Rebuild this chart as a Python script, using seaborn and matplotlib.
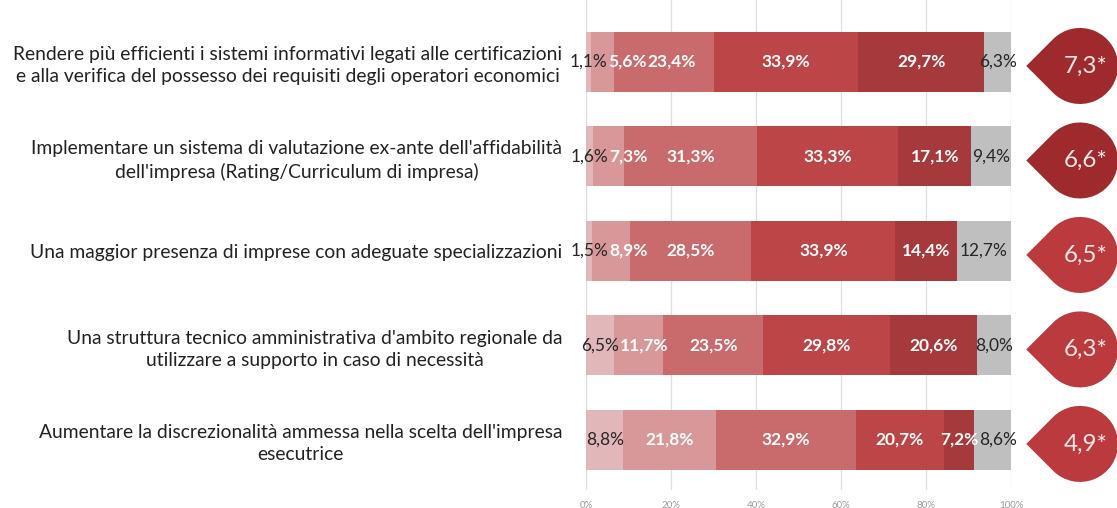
import numpy as np
import pandas as pd
import seaborn as sns
import matplotlib.pyplot as plt
from matplotlib.path import Path
from matplotlib.patches import PathPatch

# ---- data -------------------------------------------------------------
categories = [
    "Rendere più efficienti i sistemi informativi legati alle certificazioni\n"
    "e alla verifica del possesso dei requisiti degli operatori economici",
    "Implementare un sistema di valutazione ex-ante dell'affidabilità\n"
    "dell'impresa (Rating/Curriculum di impresa)",
    "Una maggior presenza di imprese con adeguate specializzazioni",
    "Una struttura tecnico amministrativa d'ambito regionale da\n"
    "utilizzare a supporto in caso di necessità",
    "Aumentare la discrezionalità ammessa nella scelta dell'impresa\n"
    "esecutrice",
]
share_1 = [1.1, 1.6, 1.5, 6.5, 8.8]
share_2 = [5.6, 7.3, 8.9, 11.7, 21.8]
share_3 = [23.4, 31.3, 28.5, 23.5, 32.9]
share_4 = [33.9, 33.3, 33.9, 29.8, 20.7]
share_5 = [29.7, 17.1, 14.4, 20.6, 7.2]
share_na = [6.3, 9.4, 12.7, 8.0, 8.6]
scores = [7.3, 6.6, 6.5, 6.3, 4.9]
tick_values = [0, 20, 40, 60, 80, 100]
tick_labels = ["0%", "20%", "40%", "60%", "80%", "100%"]

# ---- style ------------------------------------------------------------
sns.set_theme(style="white")
plt.rcParams["font.family"] = ["Lato", "DejaVu Sans"]

seg_colors = ["#e2b7b9", "#d8989a", "#c96a6d", "#bb4547", "#a6393b", "#bfbfbf"]
label_colors = ["#262626", "#ffffff", "#ffffff", "#ffffff", "#ffffff", "#262626"]
label_weights = ["normal", "bold", "bold", "bold", "bold", "normal"]
drop_dark, drop_light = "#9e2a2d", "#bb3a3e"

W, H = 1117, 508
fig = plt.figure(figsize=(W / 100, H / 100), dpi=100)
ax_bottom_px, ax_top_px = 490, 0
ax = fig.add_axes([586 / W, (H - ax_bottom_px) / H, 425 / W, (ax_bottom_px - ax_top_px) / H])

series = [share_1, share_2, share_3, share_4, share_5, share_na]
shares = np.array(series, dtype=float).T          # rows x segments
cum = np.cumsum(shares, axis=1)
starts = cum - shares

df = pd.DataFrame({"categoria": categories})
for k in range(shares.shape[1]):
    df[f"cum_{k}"] = cum[:, k]

# stacked bars: longest cumulative total first, shorter ones on top
for k in reversed(range(shares.shape[1])):
    sns.barplot(data=df, x=f"cum_{k}", y="categoria", orient="h",
                color=seg_colors[k], width=0.635, saturation=1,
                linewidth=0, ax=ax, zorder=2)

ylim = (4.53, -0.656)
ax.set_ylim(*ylim)
ax.set_xlim(0, 100)
ax.set_xlabel("")
ax.set_ylabel("")
ax.set_xticks(tick_values)
ax.set_xticklabels(tick_labels)
ax.tick_params(axis="x", length=0, pad=8, labelsize=7, labelcolor="#9a9a9a")
ax.tick_params(axis="y", length=0, pad=17, labelsize=13.9, labelcolor="#222222")
for t in ax.get_yticklabels():
    t.set_multialignment("center")
    t.set_linespacing(1.35)
ax.xaxis.grid(True, color="#dedede", linewidth=0.9)
ax.yaxis.grid(False)
ax.set_axisbelow(True)
for s in ax.spines.values():
    s.set_visible(False)

# value labels, centred on each segment
row_texts = []
for i in range(len(categories)):
    texts = []
    for k in range(shares.shape[1]):
        v = shares[i, k]
        t = ax.text(starts[i, k] + v / 2, i, f"{v:.1f}".replace(".", ",") + "%",
                    ha="center", va="center", fontsize=12.5,
                    color=label_colors[k], fontweight=label_weights[k],
                    zorder=5, clip_on=False)
        texts.append(t)
    row_texts.append(texts)

# push overlapping labels to the right
fig.canvas.draw()
renderer = fig.canvas.get_renderer()
gap = 1.0
for texts in row_texts:
    prev_right = -np.inf
    for t in texts:
        bb = t.get_window_extent(renderer)
        if bb.x0 < prev_right + gap:
            shift = prev_right + gap - bb.x0
            xd, yd = ax.transData.transform(t.get_position())
            t.set_x(ax.transData.inverted().transform((xd + shift, yd))[0])
            bb = t.get_window_extent(renderer)
        prev_right = bb.x1

# score drops on the right
dax_left_px = 1020
dax = fig.add_axes([dax_left_px / W, (H - ax_bottom_px) / H,
                    (W - dax_left_px) / W, (ax_bottom_px - ax_top_px) / H])
px_per_unit = (ax_bottom_px - ax_top_px) / abs(ylim[0] - ylim[1])
dax.set_ylim(*ylim)
dax.set_xlim(0, (W - dax_left_px) / px_per_unit)
dax.axis("off")

r = 38 / px_per_unit
cx = 60 / px_per_unit
arc = Path.arc(-135, 135)
for i, sc in enumerate(scores):
    cy = i + 4 / px_per_unit
    tip = (cx - np.sqrt(2) * r, cy)
    arc_v = arc.vertices * r + np.array([cx, cy])
    verts = np.vstack([[tip], arc_v, [tip], [tip]])
    codes = ([Path.MOVETO] + [Path.LINETO] + list(arc.codes[1:])
             + [Path.LINETO, Path.CLOSEPOLY])
    col = drop_dark if sc > 6.5 else drop_light
    dax.add_patch(PathPatch(Path(verts, codes), facecolor=col, edgecolor="none"))
    dax.text(cx + 6 / px_per_unit, cy, f"{sc:.1f}".replace(".", ",") + "*",
             ha="center", va="center", fontsize=17.5, color="#f7e6e6")

fig.savefig("out.png", dpi=100)
